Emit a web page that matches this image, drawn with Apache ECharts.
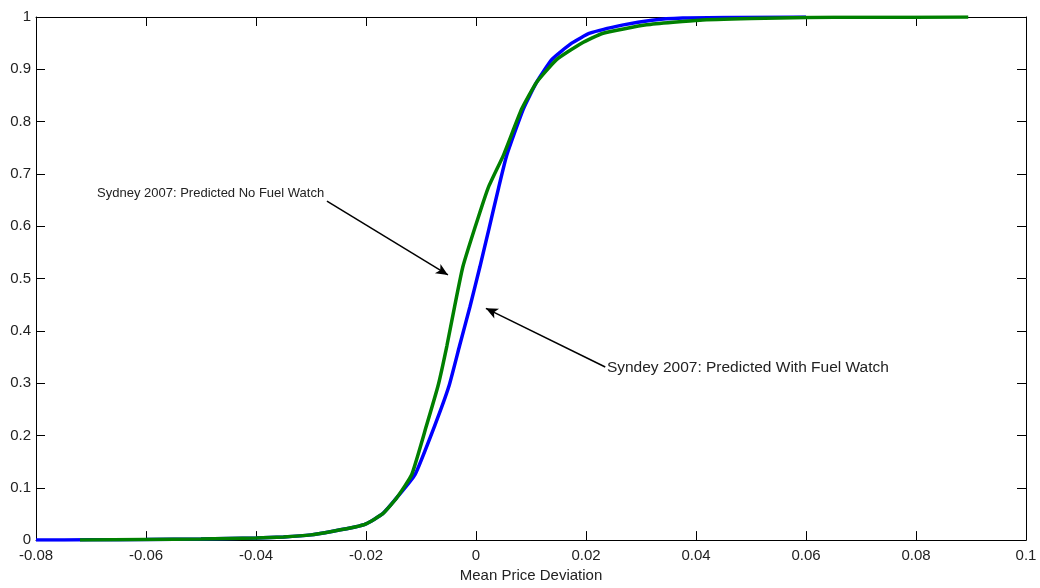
<!DOCTYPE html>
<html>
<head>
<meta charset="utf-8">
<script src="https://cdn.jsdelivr.net/npm/echarts@6/dist/echarts.min.js"></script>
<style>
html,body{margin:0;padding:0;background:#fff;}
#chart{width:1040px;height:588px;}
</style>
</head>
<body>
<div id="chart"></div>
<script>
// ---- data ----
const xTicks = [-0.08, -0.06, -0.04, -0.02, 0, 0.02, 0.04, 0.06, 0.08, 0.1];
const yTicks = [0, 0.1, 0.2, 0.3, 0.4, 0.5, 0.6, 0.7, 0.8, 0.9, 1];

const withFwX = [-0.080, -0.070, -0.060, -0.050, -0.040, -0.035, -0.030, -0.026, -0.022, -0.020, -0.017, -0.0144, -0.0111, -0.0075, -0.0049, -0.0030, -0.0011, 0.0007, 0.0024, 0.0041, 0.0056, 0.0086, 0.0110, 0.0138, 0.0174, 0.0207, 0.0268, 0.0320, 0.0376, 0.0450, 0.0600];
const withFwY = [0, 0.0005, 0.001, 0.002, 0.004, 0.006, 0.010, 0.017, 0.025, 0.031, 0.050, 0.081, 0.125, 0.219, 0.295, 0.371, 0.446, 0.522, 0.597, 0.673, 0.736, 0.824, 0.875, 0.919, 0.950, 0.969, 0.985, 0.994, 0.998, 0.999, 1.0];

const noFwX = [-0.072, -0.060, -0.050, -0.040, -0.035, -0.030, -0.026, -0.022, -0.020, -0.017, -0.0144, -0.0117, -0.0090, -0.0069, -0.0053, -0.0039, -0.0024, -0.0002, 0.0022, 0.0050, 0.0083, 0.0110, 0.0147, 0.0192, 0.0231, 0.0310, 0.0407, 0.0500, 0.0600, 0.0700, 0.0895];
const noFwY = [0, 0.001, 0.002, 0.004, 0.006, 0.010, 0.017, 0.025, 0.031, 0.050, 0.081, 0.125, 0.219, 0.295, 0.371, 0.446, 0.522, 0.597, 0.673, 0.736, 0.824, 0.875, 0.919, 0.950, 0.969, 0.985, 0.994, 0.997, 0.999, 0.9995, 1.0];

const labelNoFw = 'Sydney 2007: Predicted No Fuel Watch';
const labelWithFw = 'Syndey 2007: Predicted With Fuel Watch';
// annotation anchors in data units
const arrowNoFw = [[-0.0271, 0.648], [-0.0051, 0.507]];
const arrowWithFw = [[0.0235, 0.331], [0.0018, 0.443]];
const textNoFwAt = [-0.0689, 0.6635];
const textWithFwAt = [0.0238, 0.3295];

// ---- chart ----
const zip = (xs, ys) => xs.map((x, i) => [x, ys[i]]);
const fmt = v => String(Math.round(v * 100) / 100);
const font = '"Liberation Sans", Arial, sans-serif';

const chart = echarts.init(document.getElementById('chart'), null, {renderer: 'canvas'});

const axisCommon = {
  axisLine: {show: true, onZero: false, lineStyle: {color: '#000', width: 1}},
  axisTick: {show: true, inside: true, length: 9, lineStyle: {color: '#000', width: 1}},
  splitLine: {show: false}
};

const option = {
  animation: false,
  backgroundColor: '#fff',
  grid: {left: 36, right: 14, top: 17, bottom: 42, containLabel: false},
  xAxis: [
    Object.assign({
      type: 'value', min: xTicks[0], max: xTicks[xTicks.length - 1], interval: 0.02,
      position: 'bottom',
      name: 'Mean Price Deviation', nameLocation: 'middle', nameGap: 26,
      nameTextStyle: {fontFamily: font, fontSize: 15, color: '#222'},
      axisLabel: {show: true, margin: 8, fontFamily: font, fontSize: 15, color: '#222', formatter: fmt}
    }, axisCommon),
    Object.assign({
      type: 'value', min: xTicks[0], max: xTicks[xTicks.length - 1], interval: 0.02,
      position: 'top', axisLabel: {show: false}
    }, axisCommon)
  ],
  yAxis: [
    Object.assign({
      type: 'value', min: yTicks[0], max: yTicks[yTicks.length - 1], interval: 0.1,
      position: 'left',
      axisLabel: {show: true, margin: 5, fontFamily: font, fontSize: 15, color: '#222', formatter: fmt}
    }, axisCommon),
    Object.assign({
      type: 'value', min: yTicks[0], max: yTicks[yTicks.length - 1], interval: 0.1,
      position: 'right', axisLabel: {show: false}
    }, axisCommon)
  ],
  series: [
    {
      name: 'With Fuel Watch', type: 'line', xAxisIndex: 0, yAxisIndex: 0,
      data: zip(withFwX, withFwY), showSymbol: false, smooth: 0.15,
      lineStyle: {color: '#0000ff', width: 3.5}, z: 2,
      markLine: {
        silent: true, symbol: ['none', 'arrow'], symbolSize: [8, 12],
        label: {show: false},
        lineStyle: {color: '#000', width: 1.5, type: 'solid'},
        data: [
          [{coord: arrowNoFw[0]}, {coord: arrowNoFw[1]}],
          [{coord: arrowWithFw[0]}, {coord: arrowWithFw[1]}]
        ]
      }
    },
    {
      name: 'No Fuel Watch', type: 'line', xAxisIndex: 0, yAxisIndex: 0,
      data: zip(noFwX, noFwY), showSymbol: false, smooth: 0.15,
      lineStyle: {color: '#008000', width: 3.5}, z: 3
    }
  ]
};
chart.setOption(option);

function placeTexts() {
  const p1 = chart.convertToPixel({xAxisIndex: 0, yAxisIndex: 0}, textNoFwAt);
  const p2 = chart.convertToPixel({xAxisIndex: 0, yAxisIndex: 0}, textWithFwAt);
  chart.setOption({
    graphic: [
      {type: 'text', x: p1[0], y: p1[1], z: 10,
       style: {text: labelNoFw, fontFamily: font, fontSize: 13, fill: '#222', textVerticalAlign: 'middle', textAlign: 'left'}},
      {type: 'text', x: p2[0], y: p2[1], z: 10,
       style: {text: labelWithFw, fontFamily: font, fontSize: 15.5, fill: '#222', textVerticalAlign: 'middle', textAlign: 'left'}}
    ]
  });
}
placeTexts();
</script>
</body>
</html>
